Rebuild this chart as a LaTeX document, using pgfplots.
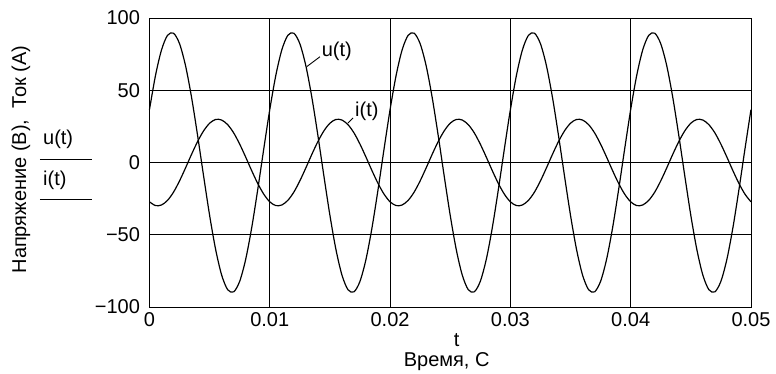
\documentclass[border=0pt]{standalone}
\usepackage{pgfplots}
\pgfplotsset{compat=1.18}
\usepackage{pgfplotstable}
\usepackage{fontspec}
\setmainfont{Liberation Sans}

\pgfplotstableread{
t u i
0.0000 36.6 -27.2
0.0005 60.2 -29.8
0.0010 77.9 -29.4
0.0015 88.0 -26.2
0.0020 89.5 -20.5
0.0025 82.2 -12.7
0.0030 66.9 -3.7
0.0035 45.0 5.7
0.0040 18.7 14.5
0.0045 -9.4 21.9
0.0050 -36.6 27.2
0.0055 -60.2 29.8
0.0060 -77.9 29.4
0.0065 -88.0 26.2
0.0070 -89.5 20.5
0.0075 -82.2 12.7
0.0080 -66.9 3.7
0.0085 -45.0 -5.7
0.0090 -18.7 -14.5
0.0095 9.4 -21.9
0.0100 36.6 -27.2
0.0105 60.2 -29.8
0.0110 77.9 -29.4
0.0115 88.0 -26.2
0.0120 89.5 -20.5
0.0125 82.2 -12.7
0.0130 66.9 -3.7
0.0135 45.0 5.7
0.0140 18.7 14.5
0.0145 -9.4 21.9
0.0150 -36.6 27.2
0.0155 -60.2 29.8
0.0160 -77.9 29.4
0.0165 -88.0 26.2
0.0170 -89.5 20.5
0.0175 -82.2 12.7
0.0180 -66.9 3.7
0.0185 -45.0 -5.7
0.0190 -18.7 -14.5
0.0195 9.4 -21.9
0.0200 36.6 -27.2
0.0205 60.2 -29.8
0.0210 77.9 -29.4
0.0215 88.0 -26.2
0.0220 89.5 -20.5
0.0225 82.2 -12.7
0.0230 66.9 -3.7
0.0235 45.0 5.7
0.0240 18.7 14.5
0.0245 -9.4 21.9
0.0250 -36.6 27.2
0.0255 -60.2 29.8
0.0260 -77.9 29.4
0.0265 -88.0 26.2
0.0270 -89.5 20.5
0.0275 -82.2 12.7
0.0280 -66.9 3.7
0.0285 -45.0 -5.7
0.0290 -18.7 -14.5
0.0295 9.4 -21.9
0.0300 36.6 -27.2
0.0305 60.2 -29.8
0.0310 77.9 -29.4
0.0315 88.0 -26.2
0.0320 89.5 -20.5
0.0325 82.2 -12.7
0.0330 66.9 -3.7
0.0335 45.0 5.7
0.0340 18.7 14.5
0.0345 -9.4 21.9
0.0350 -36.6 27.2
0.0355 -60.2 29.8
0.0360 -77.9 29.4
0.0365 -88.0 26.2
0.0370 -89.5 20.5
0.0375 -82.2 12.7
0.0380 -66.9 3.7
0.0385 -45.0 -5.7
0.0390 -18.7 -14.5
0.0395 9.4 -21.9
0.0400 36.6 -27.2
0.0405 60.2 -29.8
0.0410 77.9 -29.4
0.0415 88.0 -26.2
0.0420 89.5 -20.5
0.0425 82.2 -12.7
0.0430 66.9 -3.7
0.0435 45.0 5.7
0.0440 18.7 14.5
0.0445 -9.4 21.9
0.0450 -36.6 27.2
0.0455 -60.2 29.8
0.0460 -77.9 29.4
0.0465 -88.0 26.2
0.0470 -89.5 20.5
0.0475 -82.2 12.7
0.0480 -66.9 3.7
0.0485 -45.0 -5.7
0.0490 -18.7 -14.5
0.0495 9.4 -21.9
0.0500 36.6 -27.2
}\data

\begin{document}
\begin{tikzpicture}[font=\fontsize{20}{24}\selectfont]
\begin{axis}[
  scale only axis, width=601.5pt, height=289pt,
  xmin=0, xmax=0.05, ymin=-100, ymax=100,
  clip=false,
  scaled x ticks=false, scaled y ticks=false,
  xtick={0,0.01,0.02,0.03,0.04,0.05},
  xticklabels={0,0.01,0.02,0.03,0.04,0.05},
  ytick={-100,-50,0,50,100},
  yticklabels={−100,−50,0,50,100},
  grid=major,
  major grid style={black, line width=0.9pt},
  axis line style={black, line width=0.9pt},
  major tick length=0pt,
  tick label style={font=\fontsize{20}{24}\selectfont},
  yticklabel style={xshift=-6pt},
  xticklabel style={yshift=-1.5pt},
]
\addplot[black, line width=1.2pt, smooth] table[x=t, y=u] {\data};
\addplot[black, line width=1.2pt, smooth] table[x=t, y=i] {\data};

% curve labels
\node[anchor=base west, inner sep=0pt] at (axis cs:0.01431,73.2) {u(t)};
\draw[black, line width=0.9pt] (axis cs:0.01417,73.2) -- (axis cs:0.01307,66.3);
\node[anchor=base west, inner sep=0pt] at (axis cs:0.01708,31.7) {i(t)};
\draw[black, line width=0.9pt] (axis cs:0.01692,30.8) -- (axis cs:0.0165,27.3);

% axis titles
\node[anchor=base, inner sep=0pt] at (rel axis cs:0.5107,-0.1374) {t};
\node[anchor=base, inner sep=0pt] at (rel axis cs:0.4941,-0.2066) {Время, С};
\node[rotate=90, anchor=center, inner sep=0pt] at (rel axis cs:-0.2136,0.51) {Напряжение (В),\ \ Ток (А)};

% stacked trace labels
\node[anchor=base west, inner sep=0pt] at (rel axis cs:-0.1771,0.5606) {u(t)};
\draw[black, line width=0.9pt] (rel axis cs:-0.1820,0.5121) -- (rel axis cs:-0.0956,0.5121);
\node[anchor=base west, inner sep=0pt] at (rel axis cs:-0.1771,0.4221) {i(t)};
\draw[black, line width=0.9pt] (rel axis cs:-0.1820,0.3737) -- (rel axis cs:-0.0956,0.3737);

\coordinate (bl) at (rel axis cs:-0.2485,-0.2284);
\coordinate (tr) at (rel axis cs:1.0416,1.0623);
\end{axis}
\pgfresetboundingbox
\path (bl) rectangle (tr);
\end{tikzpicture}
\end{document}
